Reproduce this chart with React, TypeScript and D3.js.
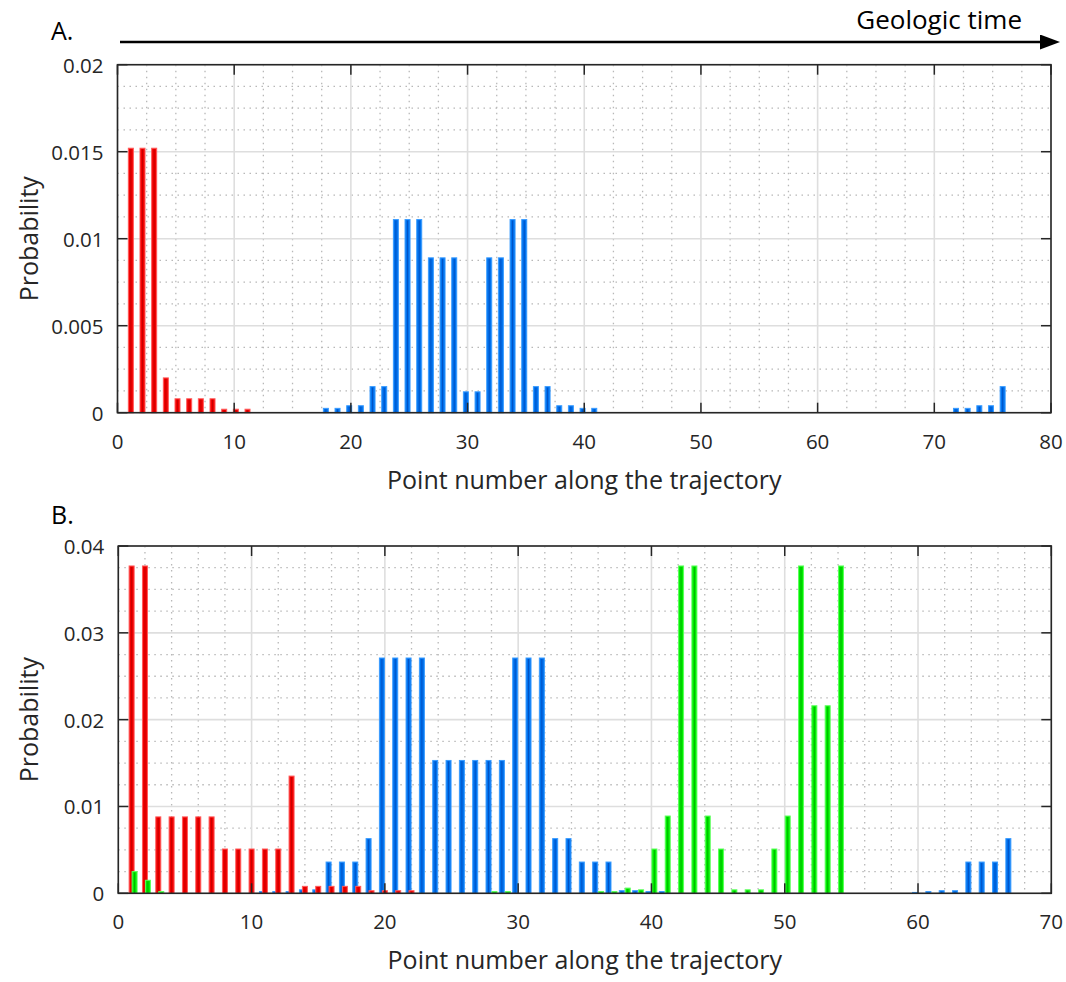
import React from "react";
import * as d3 from "d3";

// ---------- Data ----------
// Panel A: points 1..76
const pointsA = d3.range(1, 77);
const redA = [
  0.0152, 0.0152, 0.0152, 0.002, 0.0008, 0.0008, 0.0008, 0.0008, 0.0002, 0.0002,
  0.0002, 0, 0, 0, 0, 0, 0, 0, 0, 0,
  0, 0, 0, 0, 0, 0, 0, 0, 0, 0,
  0, 0, 0, 0, 0, 0, 0, 0, 0, 0,
  0, 0, 0, 0, 0, 0, 0, 0, 0, 0,
  0, 0, 0, 0, 0, 0, 0, 0, 0, 0,
  0, 0, 0, 0, 0, 0, 0, 0, 0, 0,
  0, 0, 0, 0, 0, 0,
];
const blueA = [
  0, 0, 0, 0, 0, 0, 0, 0, 0, 0,
  0, 0, 0, 0, 0, 0, 0, 0.00025, 0.00025, 0.0004,
  0.0004, 0.0015, 0.0015, 0.0111, 0.0111, 0.0111, 0.0089, 0.0089, 0.0089, 0.0012,
  0.0012, 0.0089, 0.0089, 0.0111, 0.0111, 0.0015, 0.0015, 0.0004, 0.0004, 0.00025,
  0.00025, 0, 0, 0, 0, 0, 0, 0, 0, 0,
  0, 0, 0, 0, 0, 0, 0, 0, 0, 0,
  0, 0, 0, 0, 0, 0, 0, 0, 0, 0,
  0, 0.00025, 0.00025, 0.0004, 0.0004, 0.0015,
];
const xTicksA = [0, 10, 20, 30, 40, 50, 60, 70, 80];
const yTicksA = [0, 0.005, 0.01, 0.015, 0.02];
const yTickLabelsA = ["0", "0.005", "0.01", "0.015", "0.02"];

// Panel B: points 1..67
const pointsB = d3.range(1, 68);
const blueB = [
  0, 0, 0, 0, 0, 0, 0, 0, 0, 0,
  0.0002, 0.0002, 0.0002, 0.0004, 0.0004, 0.0036, 0.0036, 0.0036, 0.0063, 0.0271,
  0.0271, 0.0271, 0.0271, 0.0153, 0.0153, 0.0153, 0.0153, 0.0153, 0.0153, 0.0271,
  0.0271, 0.0271, 0.0063, 0.0063, 0.0036, 0.0036, 0.0036, 0.0003, 0.0003, 0.0002,
  0.0002, 0, 0, 0, 0, 0, 0, 0, 0, 0,
  0, 0, 0, 0, 0, 0, 0, 0, 0, 0.0001,
  0.0002, 0.0003, 0.0003, 0.0036, 0.0036, 0.0036, 0.0063,
];
const redB = [
  0.0377, 0.0377, 0.0088, 0.0088, 0.0088, 0.0088, 0.0088, 0.0051, 0.0051, 0.0051,
  0.0051, 0.0051, 0.0135, 0.0008, 0.0008, 0.0008, 0.0008, 0.0008, 0.0003, 0.0003,
  0.0003, 0.0003, 0, 0, 0, 0, 0, 0, 0, 0,
  0, 0, 0, 0, 0, 0, 0, 0, 0, 0,
  0, 0, 0, 0, 0, 0, 0, 0, 0, 0,
  0, 0, 0, 0, 0, 0, 0, 0, 0, 0,
  0, 0, 0, 0, 0, 0, 0,
];
const greenB = [
  0.0025, 0.0015, 0.0002, 0, 0, 0, 0, 0, 0, 0,
  0, 0, 0, 0, 0, 0, 0, 0, 0, 0,
  0, 0, 0, 0, 0, 0, 0, 0.0002, 0.0002, 0,
  0, 0, 0, 0, 0, 0.0002, 0.0002, 0.0006, 0.0004, 0.0051,
  0.0089, 0.0377, 0.0377, 0.0089, 0.0051, 0.0004, 0.0004, 0.0004, 0.0051, 0.0089,
  0.0377, 0.0216, 0.0216, 0.0377, 0, 0, 0, 0, 0, 0,
  0, 0, 0, 0, 0, 0, 0,
];
const xTicksB = [0, 10, 20, 30, 40, 50, 60, 70];
const yTicksB = [0, 0.01, 0.02, 0.03, 0.04];
const yTickLabelsB = ["0", "0.01", "0.02", "0.03", "0.04"];

const xLabel = "Point number along the trajectory";
const yLabel = "Probability";

// ---------- Styles ----------
const FONT = "'Open Sans', 'Noto Sans', sans-serif";
const TEXT = "#262626";
const COLORS = {
  red: { fill: "#f20000", edge: "#ff5a5a", core: "#c80000" },
  blue: { fill: "#0072ee", edge: "#3a9cff", core: "#0052c4" },
  green: { fill: "#00ee00", edge: "#5cff5c", core: "#00b400" },
};

type Series = { values: number[]; offset: number; color: { fill: string; edge: string; core: string } };

type PanelProps = {
  left: number; right: number; top: number; bottom: number;
  xMax: number; yMax: number;
  xTicks: number[]; yTicks: number[]; yTickLabels: string[];
  xMinorStep: number; yMinorStep: number;
  points: number[]; series: Series[];
};

function Panel(p: PanelProps) {
  const x = d3.scaleLinear().domain([0, p.xMax]).range([p.left, p.right]);
  const y = d3.scaleLinear().domain([0, p.yMax]).range([p.bottom, p.top]);
  const barW = 5;
  const tickLen = 10;
  const eps = 1e-9;
  const xMinor = d3.range(0, p.xMax + eps, p.xMinorStep).filter(v => !p.xTicks.some(t => Math.abs(t - v) < eps));
  const yMinor = d3.range(0, p.yMax + eps, p.yMinorStep).filter(v => !p.yTicks.some(t => Math.abs(t - v) < 1e-7));
  const midY = (p.top + p.bottom) / 2;
  const midX = (p.left + p.right) / 2;
  return (
    <g>
      {/* minor grid */}
      {xMinor.map((v, i) => (
        <line key={"xm" + i} x1={x(v)} x2={x(v)} y1={p.top} y2={p.bottom}
          stroke="#b8b8b8" strokeWidth={1.3} strokeDasharray="1.5 4.5" />
      ))}
      {yMinor.map((v, i) => (
        <line key={"ym" + i} x1={p.left} x2={p.right} y1={y(v)} y2={y(v)}
          stroke="#b8b8b8" strokeWidth={1.3} strokeDasharray="1.5 4.5" />
      ))}
      {/* major grid */}
      {p.xTicks.map((v, i) => (
        <line key={"xg" + i} x1={x(v)} x2={x(v)} y1={p.top} y2={p.bottom} stroke="#dedede" strokeWidth={1.6} />
      ))}
      {p.yTicks.map((v, i) => (
        <line key={"yg" + i} x1={p.left} x2={p.right} y1={y(v)} y2={y(v)} stroke="#dedede" strokeWidth={1.6} />
      ))}
      {/* bars */}
      {p.series.map((s, si) => (
        <g key={"s" + si}>
          {p.points.map((pt, i) => {
            const v = s.values[i];
            const cx = x(pt + s.offset);
            const yt = y(v);
            const h = p.bottom - yt;
            return (
              <g key={i}>
                <rect x={cx - barW / 2} y={yt} width={barW} height={Math.max(h, 0)}
                  fill={s.color.fill} stroke={s.color.edge} strokeWidth={1} />
                {h > 2 && (
                  <line x1={cx} x2={cx} y1={yt + 1} y2={p.bottom} stroke={s.color.core} strokeWidth={1} />
                )}
              </g>
            );
          })}
        </g>
      ))}
      {/* ticks */}
      {p.xTicks.map((v, i) => (
        <g key={"xt" + i}>
          <line x1={x(v)} x2={x(v)} y1={p.bottom} y2={p.bottom - tickLen} stroke={TEXT} strokeWidth={1.5} />
          <line x1={x(v)} x2={x(v)} y1={p.top} y2={p.top + tickLen} stroke={TEXT} strokeWidth={1.5} />
          <text x={x(v)} y={p.bottom + 28} textAnchor="middle" dominantBaseline="central"
            fontFamily={FONT} fontSize={20.5} fill={TEXT}>{v}</text>
        </g>
      ))}
      {p.yTicks.map((v, i) => (
        <g key={"yt" + i}>
          <line x1={p.left} x2={p.left + tickLen} y1={y(v)} y2={y(v)} stroke={TEXT} strokeWidth={1.5} />
          <line x1={p.right} x2={p.right - tickLen} y1={y(v)} y2={y(v)} stroke={TEXT} strokeWidth={1.5} />
          <text x={p.left - 14} y={y(v)} textAnchor="end" dominantBaseline="central"
            fontFamily={FONT} fontSize={20.5} fill={TEXT}>{p.yTickLabels[i]}</text>
        </g>
      ))}
      {/* box */}
      <rect x={p.left} y={p.top} width={p.right - p.left} height={p.bottom - p.top}
        fill="none" stroke={TEXT} strokeWidth={1.6} />
      {/* labels */}
      <text x={midX} y={p.bottom + 66} textAnchor="middle" dominantBaseline="central"
        fontFamily={FONT} fontSize={25} fill={TEXT}>{xLabel}</text>
      <text transform={`translate(${28},${midY}) rotate(-90)`} textAnchor="middle" dominantBaseline="central"
        fontFamily={FONT} fontSize={25} fill={TEXT}>{yLabel}</text>
    </g>
  );
}

export default function App() {
  return (
    <svg width={1066} height={982} style={{ position: "absolute", left: 0, top: 0, background: "#fff" }}>
      <rect width={1066} height={982} fill="#fff" />
      <defs>
        <marker id="arrowHead" markerWidth="8" markerHeight="6" refX="0" refY="3" orient="auto" markerUnits="strokeWidth">
          <path d="M0,0 L8,3 L0,6 Z" fill="#000" />
        </marker>
      </defs>
      <text x={51} y={30} dominantBaseline="central" fontFamily={FONT} fontSize={25} fill="#000">A.</text>
      <text x={1022} y={19} textAnchor="end" dominantBaseline="central" fontFamily={FONT} fontSize={26} fill="#000">Geologic time</text>
      <line x1={120} x2={1040} y1={42} y2={42} stroke="#000" strokeWidth={2.5} markerEnd="url(#arrowHead)" />
      <Panel left={117.5} right={1051} top={64.7} bottom={412.7} xMax={80} yMax={0.02}
        xTicks={xTicksA} yTicks={yTicksA} yTickLabels={yTickLabelsA}
        xMinorStep={2.5} yMinorStep={0.00125} points={pointsA}
        series={[
          { values: blueA, offset: -0.143, color: COLORS.blue },
          { values: redA, offset: 0.143, color: COLORS.red },
        ]} />
      <text x={51} y={514} dominantBaseline="central" fontFamily={FONT} fontSize={25} fill="#000">B.</text>
      <Panel left={118.3} right={1051.3} top={546} bottom={893.3} xMax={70} yMax={0.04}
        xTicks={xTicksB} yTicks={yTicksB} yTickLabels={yTickLabelsB}
        xMinorStep={2} yMinorStep={0.0025} points={pointsB}
        series={[
          { values: blueB, offset: -0.222, color: COLORS.blue },
          { values: redB, offset: 0, color: COLORS.red },
          { values: greenB, offset: 0.222, color: COLORS.green },
        ]} />
    </svg>
  );
}
